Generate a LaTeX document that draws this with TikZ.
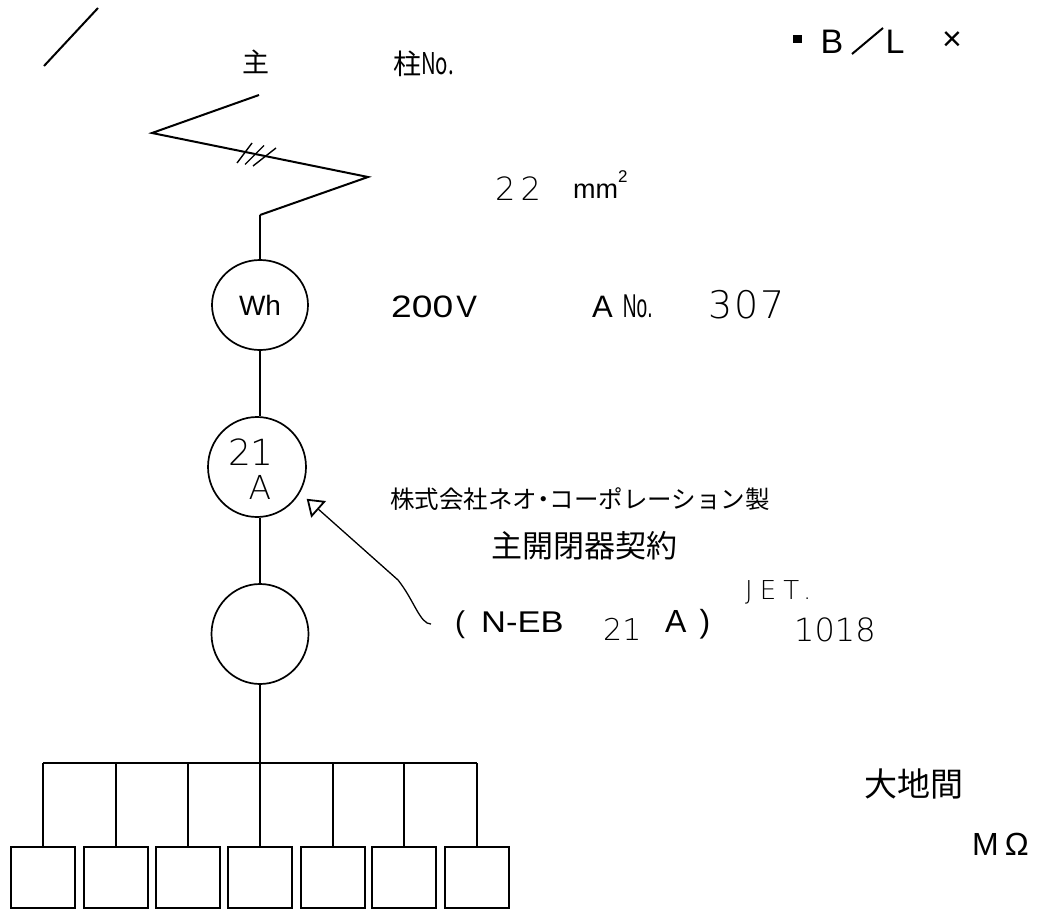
\documentclass[tikz,border=0pt]{standalone}
\usepackage{fontspec}
\usepackage{graphicx}
\setmainfont{Liberation Sans}
\newfontfamily\jpfont{Noto Sans CJK JP}
\newfontfamily\handfont{DejaVu Sans ExtraLight}
\usetikzlibrary{shapes.geometric,arrows.meta}

\tikzset{
  wire/.style={line width=2pt},
  meter/.style={draw, ellipse, line width=1.7pt, inner sep=0pt},
  feeder/.style={draw, rectangle, line width=2pt, inner sep=0pt, minimum width=64pt, minimum height=61pt},
  print/.style={inner sep=0pt, font=\fontsize{#1}{#1}\selectfont},
  hand/.style={inner sep=0pt, font=\handfont\fontsize{#1}{#1}\selectfont},
  jp/.style={inner sep=0pt, font=\jpfont\fontsize{#1}{#1}\selectfont}
}

\begin{document}
\begin{tikzpicture}[x=1pt, y=-1pt]
\useasboundingbox (0,0) rectangle (1040,910);
\def \busy {763}

% heading
\coordinate (slasha) at (44,66);
\coordinate (slashb) at (98,8);
\draw[wire] (slasha) -- (slashb);
\node[jp=27] (main) at (256,62) {主};
\node[jp=28, anchor=west] (pole) at (393,64) {柱\scalebox{0.68}[1]{\fontsize{30}{30}\selectfont No.}};
\node[print=34, anchor=base west] (bl) at (793,53) {\raisebox{10pt}{\rule{9pt}{8pt}}\hspace{18.5pt}B};
\coordinate (bla) at (852,54);
\coordinate (blb) at (883,28);
\draw[wire] (bla) -- (blb);
\node[print=34, anchor=base west] (blc) at (885.5,53) {L};
\node[print=34] (times) at (952,41) {×};

% service wire
\coordinate (wa) at (259,95);
\coordinate (wb) at (152,133);
\coordinate (wc) at (368,177);
\coordinate (wd) at (260,215);
\draw[wire, line join=miter] (wa) -- (wb) -- (wc) -- (wd);
\foreach \s in {0,1,2}
{
  \coordinate (ta\s) at ({237+8*\s},{163+1.5*\s});
  \coordinate (tb\s) at ({252+12*\s},{143+2.5*\s});
  \draw[line width=1.4pt] (ta\s) -- (tb\s);
}
\node[hand=32, anchor=base west] (size) at (495,200) {2\hspace{5pt}2};
\node[print=27, anchor=base west] (unit) at (573,198) {mm\raisebox{16pt}{\fontsize{17}{17}\selectfont 2}};

% meters
\node[meter, minimum width=96pt, minimum height=90pt] (wh) at (260,305) {\fontsize{28}{28}\selectfont Wh};
\node[meter, minimum width=98pt, minimum height=100pt] (brk) at (257,467) {};
\node[hand=36] (brknum) at (251,452) {21};
\node[hand=33] (brkamp) at (260,487) {A};
\node[meter, minimum width=97pt, minimum height=100pt] (rcd) at (260,634) {};
\draw[wire] (wd) -- (wh.north);
\draw[wire] (wh.south) -- (wh.south |- brk.north);
\draw[wire] (wh.south |- brk.south) -- (rcd.north);

\node[print=31, anchor=base west] (volt) at (391,317) {\scalebox{1.2}[1]{200}\hspace{3pt}V};
\node[print=31, anchor=base west] (amp) at (592,317) {A\hspace{10pt}\scalebox{0.58}[1]{\fontsize{33}{33}\selectfont No.}};
\node[hand=38, anchor=base west] (ampnum) at (708,318) {3\hspace{2pt}0\hspace{2pt}7};

% maker and contract
\node[jp=24.5, anchor=west] (maker) at (390,499) {株式会社ネオ\hspace{-6pt}・\hspace{-6pt}コーポレーション製};
\node[jp=31, anchor=west] (contract) at (491,546) {主開閉器契約};
\node[print=30, anchor=base west] (neb) at (455,632) {(\hspace{16pt}\scalebox{1.15}[1]{N-EB}};
\node[hand=30, anchor=base west] (nebnum) at (603,640) {21};
\node[print=32, anchor=base west] (nebamp) at (665,632) {A\hspace{13pt})};
\node[hand=26, anchor=west] (jet) at (745,592) {J\hspace{7pt}E\hspace{7pt}T\hspace{4pt}.};
\node[hand=32, anchor=west] (jetnum) at (794,630) {1018};
\draw[line width=1.3pt, -{Triangle[open, length=16pt, width=22pt, line width=1.8pt]}, shorten <=24pt, shorten >=9pt] (neb.west) .. controls (420,624) and (414,600) .. (398,580) -- (brk.-31);

% right column
\node[jp=33, anchor=west] (earth) at (864,784) {大地間};
\node[print=32, anchor=west] (ohm) at (972,844) {M\hspace{6pt}Ω};

% branch circuits
\coordinate (busl) at (43,\busy);
\coordinate (busr) at (477,\busy);
\draw[wire] (busl) -- (busr);
\draw[wire] (rcd.south) -- (rcd.south |- busl);
\foreach \s/\x in {1/43,2/116,3/188,4/260,5/333,6/404,7/477}
{
  \node[feeder] (box\s) at (\x,877.5) {};
  \draw[wire] (box\s.north) -- (box\s.north |- busl);
}
\end{tikzpicture}
\end{document}
